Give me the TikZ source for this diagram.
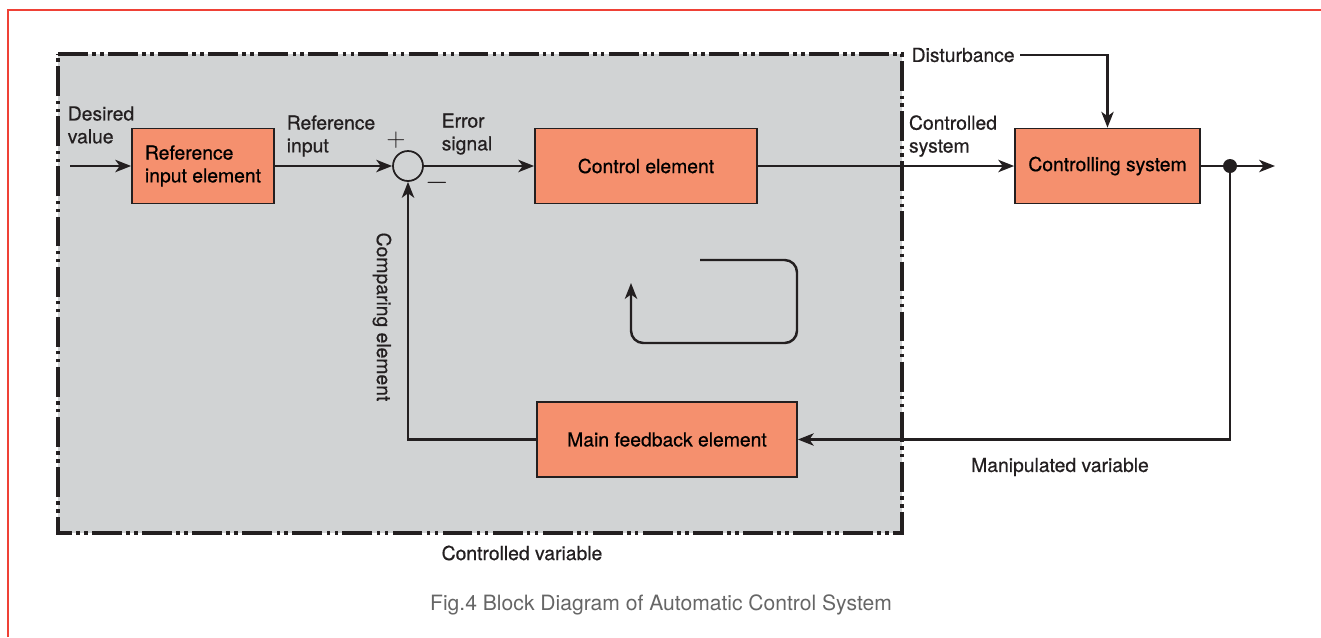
\documentclass[tikz,border=0pt]{standalone}
\usepackage{fontspec}
\setmainfont{TeX Gyre Heros}
\newfontfamily\medfont[FakeBold=0.6]{TeX Gyre Heros}
\usepackage{xcolor}
\usepackage{tikz}
\usetikzlibrary{positioning, arrows.meta}

\definecolor{salmon}{RGB}{245,144,110}
\definecolor{panel}{RGB}{209,211,212}
\definecolor{frame}{RGB}{239,65,54}
\definecolor{ink}{RGB}{35,31,32}

\begin{document}
\begin{tikzpicture}[x=0.02cm, y=-0.02cm, >={Stealth[length=9pt, width=7pt, inset=2.5pt]}]
\tikzstyle{block} = [rectangle, draw=ink, line width=1pt, fill=salmon, minimum height=1.5cm, font=\medfont\fontsize{11}{13}\selectfont]
\tikzstyle{label} = [inner sep=0pt, align=left, text=ink, font=\medfont\fontsize{11}{13}\selectfont]
\tikzstyle{wire}  = [->, line width=1.4pt, draw=ink]
\useasboundingbox (0,0) rectangle (1321,637);
% outer frame, open at right and bottom
\draw[frame, line width=1.2pt] (8,637) -- (8,10) -- (1321,10);
% controller panel
\fill[panel] (58,54) rectangle (902,533);
\draw[ink, line width=2pt, dash pattern=on 17pt off 2.5pt on 2pt off 2.5pt on 2pt off 2.5pt] (58,54) -- (902,54) -- (902,533) -- (58,533) -- cycle;
\node[block, minimum width=2.84cm, align=left] at (203,166) (refin){Reference\\input element};
\node[circle, draw=ink, line width=1pt, fill=panel, minimum size=0.6cm, inner sep=0pt] at (408,166) (sum){};
\node[block, minimum width=4.44cm] at (646,166) (ctrl){Control element};
\node[block, minimum width=3.7cm] at (1107.5,166) (plant){Controlling system};
\node[block, minimum width=5.2cm] at (667,439.5) (fb){Main feedback element};
\node[label, anchor=west, inner sep=3pt] at (906,55) (dist){Disturbance};
\coordinate (din) at (70,166);
\coordinate (tap) at (1230,166);
\coordinate (out) at (1275,166);
% signal path
\draw[wire] (din) -- (refin.west);
\draw[wire] (refin.east) -- (sum.west);
\draw[wire] (sum.east) -- (ctrl.west);
\draw[wire] (ctrl.east) -- (plant.west);
\draw[wire] (plant.east) -- (out);
\draw[wire] (dist.east) -| (plant.north);
\draw[wire] (tap) |- (fb.east);
\draw[wire] (fb.west) -| (sum.south);
\fill[ink] (tap) circle (0.14cm);
% loop symbol
\draw[->, line width=1.4pt, draw=ink, rounded corners=7pt] (700,260) -- (797,260) -- (797,343) -- (631,343) -- (631,283);
% labels
\node[label] at (101,125) (lDesired){Desired\\value};
\node[label] at (331,136) (lRefIn){Reference\\input};
\node[label] at (467,134) (lError){Error\\signal};
\node[label] at (953,136) (lSystem){Controlled\\system};
\node[label, rotate=-90] at (382,317) (lCompare){Comparing element};
\node[label] at (1060,467) (lManip){Manipulated variable};
\node[label] at (522,553) (lCtrlVar){Controlled variable};
\node[inner sep=0pt, text=ink, font=\Large] at (396,140) (lPlus){$+$};
\node[inner sep=0pt, text=ink, font=\LARGE] at (437,183) (lMinus){$-$};
\node[inner sep=0pt, text=black!60, font=\fontsize{12}{14}\selectfont] at (661,605) (caption){Fig.4 Block Diagram of Automatic Control System};
\end{tikzpicture}
\end{document}
